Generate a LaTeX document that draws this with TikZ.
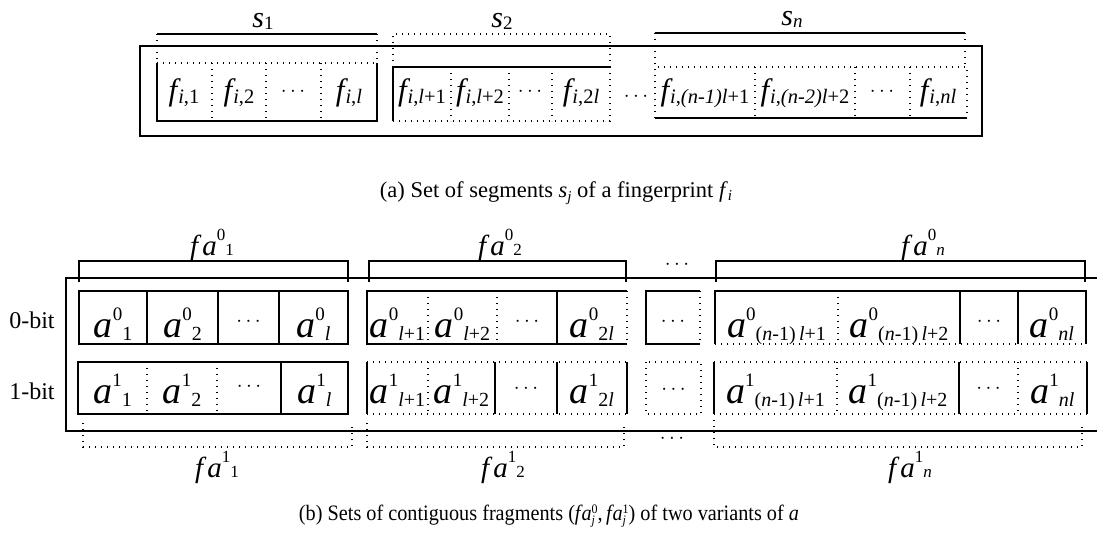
\documentclass[tikz,border=0pt]{standalone}
\usepackage{fontspec}
\setmainfont{Liberation Serif}
\newcommand\fsub[1]{{\fontsize{31}{31}\selectfont\itshape f}\kern1pt\raisebox{-3pt}{\fontsize{20.5}{20.5}\selectfont #1}}
\newcommand\slab[1]{{\fontsize{30}{30}\selectfont\itshape s}\raisebox{-2pt}{\fontsize{19}{19}\selectfont #1}}
\newcommand\acell[2]{{\fontsize{38}{38}\selectfont\itshape a}\raisebox{17pt}{\fontsize{19}{19}\selectfont #1}\raisebox{-3pt}{\fontsize{20}{20}\selectfont #2}}
\newcommand\flab[2]{{\fontsize{29}{29}\selectfont\itshape f\kern4pt a}\raisebox{15pt}{\fontsize{17}{17}\selectfont #1}{\fontsize{17}{17}\selectfont #2}}
\newcommand\supsubx[2]{\raisebox{-4pt}{\fontsize{13}{13}\selectfont\begin{tabular}[b]{@{}l@{}}#1\\[-2pt]\textit{#2}\end{tabular}}}
\newcommand\cdts[1]{{\fontsize{#1}{#1}\selectfont$\cdots$}}
\newcommand\iv[1]{\textit{#1}}
\begin{document}
\begin{tikzpicture}[x=1pt,y=-1pt,
  sl/.style={line width=1.7pt},
  dl/.style={line width=1.3pt,dash pattern=on 1.3pt off 4.7pt},
  txt/.style={inner sep=0pt,anchor=base},
  dts/.style={inner sep=0pt,anchor=center}]
\useasboundingbox (0,0) rectangle (1097,539);
% ---------- (a) ----------
\draw[sl] (140,46) rectangle (982,136);
% s1
\draw[sl] (157,34) -- (377,34);
\draw[dl] (157,34) -- (157,63);
\draw[dl] (377,34) -- (377,63);
\draw[dl] (157,63) -- (377,63);
\draw[sl] (157,63) -- (157,121) -- (377,121) -- (377,63);
\foreach \x in {212,266,321} \draw[dl] (\x,63) -- (\x,121);
% s2
\draw[dl] (393,67) -- (393,34) -- (610,34) -- (610,67);
\draw[sl] (393,121) -- (393,67) -- (610,67);
\draw[dl] (393,121) -- (610,121) -- (610,67);
\foreach \x in {451,509,552} \draw[dl] (\x,67) -- (\x,121);
% sn
\draw[sl] (655,33) -- (965,33);
\draw[dl] (655,33) -- (655,67);
\draw[dl] (965,33) -- (965,67);
\draw[dl] (655,118) -- (655,67) -- (967,67) -- (967,118);
\draw[sl] (655,118) -- (967,118);
\foreach \x in {755,855,910} \draw[dl] (\x,67) -- (\x,118);
% labels (a)
\node[txt] (s1) at (263,27) {\slab{1}};
\node[txt] (s2) at (502,27) {\slab{2}};
\node[txt] (sn) at (792,25) {\slab{\iv{n}}};
\node[txt] (f1) at (184,100) {\fsub{\iv{i},1}};
\node[txt] (f2) at (239,100) {\fsub{\iv{i},2}};
\node[dts] (fd1) at (293,92) {\cdts{20}};
\node[txt] (fl) at (349,100) {\fsub{\iv{i},\iv{l}}};
\node[txt] (fl1) at (422,100) {\fsub{\iv{i},\iv{l}+1}};
\node[txt] (fl2) at (480,100) {\fsub{\iv{i},\iv{l}+2}};
\node[dts] (fd2) at (530,92) {\cdts{20}};
\node[txt] (f2l) at (581,100) {\fsub{\iv{i},2\iv{l}}};
\node[dts] (fd3) at (636,97) {\cdts{20}};
\node[txt] (fn1) at (705,100) {\fsub{\iv{i},\iv{(n-1)l}+1}};
\node[txt] (fn2) at (805,100) {\fsub{\iv{i},\iv{(n-2)l}+2}};
\node[dts] (fd4) at (882,92) {\cdts{20}};
\node[txt] (fnl) at (938,100) {\fsub{\iv{i},\iv{nl}}};
\node[txt] (capa) at (556,197) {\fontsize{22.5}{22.5}\selectfont (a) Set of segments \iv{s}\raisebox{-4pt}{\fontsize{15}{15}\selectfont\iv{j}} of a fingerprint \iv{f}\raisebox{-3pt}{\fontsize{15}{15}\selectfont\iv{i}}};
% ---------- (b) ----------
\draw[sl] (1097,278) -- (66,278) -- (66,431) -- (1097,431);
\draw[sl] (79,282) -- (79,261) -- (348,261) -- (348,282);
\draw[sl] (369,282) -- (369,261) -- (626,261) -- (626,282);
\draw[sl] (716,282) -- (716,261) -- (1085,261) -- (1085,282);
% row 0
\draw[sl] (79,291) rectangle (348,344);
\foreach \x in {147,218,279} \draw[sl] (\x,291) -- (\x,344);
\draw[sl] (627,291) -- (367,291) -- (367,344) -- (627,344);
\draw[dl] (627,291) -- (627,344);
\draw[dl] (428,291) -- (428,344);
\draw[dl] (497,291) -- (497,344);
\draw[sl] (557,291) -- (557,344);
\draw[sl] (700,291) -- (646,291) -- (646,344) -- (700,344);
\draw[dl] (700,291) -- (700,344);
\draw[sl] (715,344) -- (715,291) -- (1086,291) -- (1086,344);
\draw[dl] (715,344) -- (1086,344);
\draw[dl] (838,291) -- (838,344);
\draw[sl] (960,291) -- (960,344);
\draw[sl] (1018,291) -- (1018,344);
% row 1
\draw[sl] (78,362) rectangle (348,414);
\draw[dl] (147,362) -- (147,414);
\draw[dl] (217,362) -- (217,414);
\draw[sl] (281,362) -- (281,414);
\draw[dl] (367,362) -- (627,362);
\draw[dl] (367,414) -- (627,414);
\draw[sl] (367,362) -- (367,414);
\draw[sl] (627,362) -- (627,414);
\draw[dl] (428,362) -- (428,414);
\draw[sl] (495,362) -- (495,414);
\draw[sl] (557,362) -- (557,414);
\draw[dl] (646,362) rectangle (701,414);
\draw[dl] (714,362) -- (1087,362);
\draw[dl] (714,414) -- (1087,414);
\draw[sl] (714,362) -- (714,414);
\draw[sl] (1087,362) -- (1087,414);
\draw[dl] (837,362) -- (837,414);
\draw[sl] (959,362) -- (959,414);
\draw[dl] (1018,362) -- (1018,414);
% bottom brackets
\draw[dl] (83,423) -- (83,447) -- (352,447) -- (352,423);
\draw[dl] (367,423) -- (367,447) -- (624,447) -- (624,423);
\draw[dl] (714,420) -- (714,447) -- (1082,447) -- (1082,423);
% labels (b)
\node[txt] (fa01) at (212,255) {\flab{0}{1}};
\node[txt] (fa02) at (500,255) {\flab{0}{2}};
\node[txt] (fa0n) at (923,255) {\flab{0}{\iv{n}}};
\node[dts] (td) at (677,265) {\cdts{20}};
\node[txt] (fa11) at (217,477) {\flab{1}{1}};
\node[txt] (fa12) at (503,477) {\flab{1}{2}};
\node[txt] (fa1n) at (910,477) {\flab{1}{\iv{n}}};
\node[dts] (bd) at (672,439) {\cdts{20}};
\node[txt] (b0) at (32,328) {\fontsize{24}{24}\selectfont 0-bit};
\node[txt] (b1) at (32,399) {\fontsize{24}{24}\selectfont 1-bit};
% row 0 texts
\node[txt] (a01) at (113,337) {\acell{0}{1}};
\node[txt] (a02) at (182.5,337) {\acell{0}{2}};
\node[dts] (d01) at (248.5,322) {\cdts{20}};
\node[txt] (a0l) at (313.5,337) {\acell{0}{\iv{l}}};
\node[txt] (a0l1) at (397.5,337) {\acell{0}{\iv{l}+1}};
\node[txt] (a0l2) at (462.5,337) {\acell{0}{\iv{l}+2}};
\node[dts] (d02) at (527,322) {\cdts{20}};
\node[txt] (a02l) at (592,337) {\acell{0}{2\iv{l}}};
\node[dts] (d0m) at (673,322) {\cdts{20}};
\node[txt] (a0n1) at (776.5,337) {\acell{0}{(\iv{n}-1)\,\iv{l}+1}};
\node[txt] (a0n2) at (899,337) {\acell{0}{(\iv{n}-1)\,\iv{l}+2}};
\node[dts] (d0n) at (989,322) {\cdts{20}};
\node[txt] (a0nl) at (1052,337) {\acell{0}{\iv{nl}}};
% row 1 texts
\node[txt] (a11) at (112.5,403) {\acell{1}{1}};
\node[txt] (a12) at (182,403) {\acell{1}{2}};
\node[dts] (d11) at (249,387) {\cdts{20}};
\node[txt] (a1l) at (314.5,403) {\acell{1}{\iv{l}}};
\node[txt] (a1l1) at (397.5,403) {\acell{1}{\iv{l}+1}};
\node[txt] (a1l2) at (461.5,403) {\acell{1}{\iv{l}+2}};
\node[dts] (d12) at (526,389) {\cdts{20}};
\node[txt] (a12l) at (592,403) {\acell{1}{2\iv{l}}};
\node[dts] (d1m) at (673.5,390) {\cdts{20}};
\node[txt] (a1n1) at (775.5,403) {\acell{1}{(\iv{n}-1)\,\iv{l}+1}};
\node[txt] (a1n2) at (898,403) {\acell{1}{(\iv{n}-1)\,\iv{l}+2}};
\node[dts] (d1n) at (988.5,389) {\cdts{20}};
\node[txt] (a1nl) at (1052.5,403) {\acell{1}{\iv{nl}}};
\node[txt] (capb) at (549,520) {\scalebox{0.92}[1]{\fontsize{22}{22}\selectfont (b) Sets of contiguous fragments (\iv{f\kern1pt a}\supsubx{0}{j},\,\iv{f\kern1pt a}\supsubx{1}{j}) of two variants of \iv{a}}};
\end{tikzpicture}
\end{document}
